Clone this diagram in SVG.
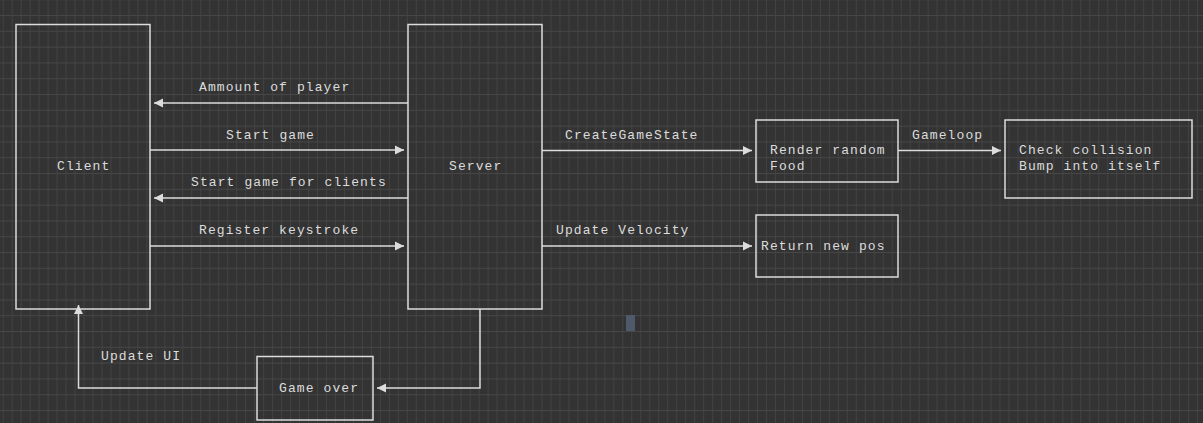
<svg xmlns="http://www.w3.org/2000/svg" width="1203" height="423" viewBox="0 0 1203 423">
  <style>
    .box { fill: none; stroke: #dcdcdc; stroke-width: 1.5; }
    .edge { fill: none; stroke: #dcdcdc; stroke-width: 1.5; }
    .t { font-family: "Liberation Mono", "Courier New", monospace; font-size: 13px; letter-spacing: 1.1px; fill: #dcdcdc; }
  </style>
  <defs>
    <pattern id="grid" patternUnits="userSpaceOnUse" x="2.7" y="15" width="8.98" height="15.8">
      <rect x="0" y="0" width="8.98" height="15.8" fill="#333333"/>
      <rect x="0" y="0" width="1" height="15.8" fill="#424242"/>
      <rect x="0" y="0" width="8.98" height="1" fill="#464646"/>
    </pattern>
    <marker id="arr" markerUnits="userSpaceOnUse" markerWidth="10" markerHeight="10" refX="9" refY="5" orient="auto">
      <path d="M0,0.5 L9,5 L0,9.5 z" fill="#dcdcdc"/>
    </marker>
  </defs>
  <rect width="1203" height="423" fill="url(#grid)"/>
  <rect x="626" y="315" width="9" height="16" fill="#4e5a6a"/>

  <g id="connectors">
    <line class="edge" x1="408" y1="103" x2="154" y2="103" marker-end="url(#arr)"/>
    <line class="edge" x1="150" y1="150" x2="404" y2="150" marker-end="url(#arr)"/>
    <line class="edge" x1="408" y1="198" x2="154" y2="198" marker-end="url(#arr)"/>
    <line class="edge" x1="150" y1="246" x2="404" y2="246" marker-end="url(#arr)"/>
    <line class="edge" x1="542" y1="150.5" x2="752" y2="150.5" marker-end="url(#arr)"/>
    <line class="edge" x1="542" y1="246" x2="752" y2="246" marker-end="url(#arr)"/>
    <line class="edge" x1="898" y1="150.5" x2="1001" y2="150.5" marker-end="url(#arr)"/>
    <polyline class="edge" points="480,309 480,388 377,388" marker-end="url(#arr)"/>
    <polyline class="edge" points="257,388 78.5,388 78.5,305" marker-end="url(#arr)"/>
    <text class="t" x="199" y="91">Ammount of player</text>
    <text class="t" x="226" y="139">Start game</text>
    <text class="t" x="191" y="186">Start game for clients</text>
    <text class="t" x="199" y="234">Register keystroke</text>
    <text class="t" x="565" y="139">CreateGameState</text>
    <text class="t" x="556" y="234">Update Velocity</text>
    <text class="t" x="912" y="139">Gameloop</text>
    <text class="t" x="101" y="360">Update UI</text>
  </g>

  <g id="client">
    <rect class="box" x="16" y="24.5" width="134" height="284.5"/>
    <text class="t" x="57" y="170">Client</text>
  </g>
  <g id="server">
    <rect class="box" x="408" y="24.5" width="134" height="284.5"/>
    <text class="t" x="449" y="170">Server</text>
  </g>
  <g id="render-food">
    <rect class="box" x="756" y="120" width="142" height="62"/>
    <text class="t" x="770" y="154">Render random</text>
    <text class="t" x="770" y="170">Food</text>
  </g>
  <g id="check-collision">
    <rect class="box" x="1005" y="120" width="187" height="78"/>
    <text class="t" x="1019" y="154">Check collision</text>
    <text class="t" x="1019" y="170">Bump into itself</text>
  </g>
  <g id="return-pos">
    <rect class="box" x="756" y="215" width="142" height="62"/>
    <text class="t" x="761" y="250">Return new pos</text>
  </g>
  <g id="game-over">
    <rect class="box" x="257" y="356.5" width="116" height="63.5"/>
    <text class="t" x="279" y="392">Game over</text>
  </g>
</svg>
